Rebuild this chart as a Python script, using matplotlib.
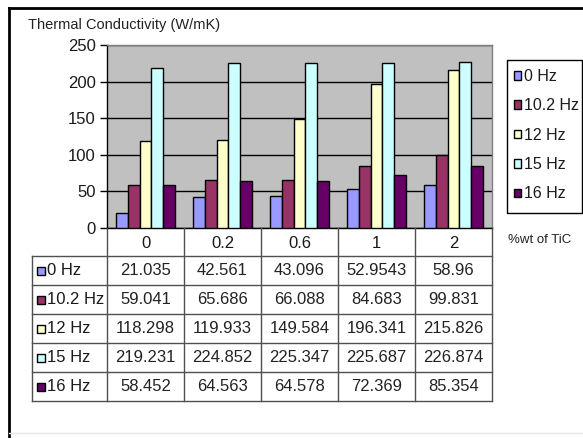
import matplotlib
matplotlib.use('Agg')
import numpy as np
import matplotlib.pyplot as plt
from matplotlib.patches import Rectangle
from matplotlib.lines import Line2D

plt.rcParams['font.family'] = ['Liberation Sans', 'DejaVu Sans']

# %wt of TiC and thermal conductivity (W/mK) per vibration frequency
categories = ['0', '0.2', '0.6', '1', '2']
series_names = ['0 Hz', '10.2 Hz', '12 Hz', '15 Hz', '16 Hz']
hz_0 = [21.035, 42.561, 43.096, 52.9543, 58.96]
hz_10_2 = [59.041, 65.686, 66.088, 84.683, 99.831]
hz_12 = [118.298, 119.933, 149.584, 196.341, 215.826]
hz_15 = [219.231, 224.852, 225.347, 225.687, 226.874]
hz_16 = [58.452, 64.563, 64.578, 72.369, 85.354]
series_values = [hz_0, hz_10_2, hz_12, hz_15, hz_16]
series_labels = [['21.035', '42.561', '43.096', '52.9543', '58.96'],
                 ['59.041', '65.686', '66.088', '84.683', '99.831'],
                 ['118.298', '119.933', '149.584', '196.341', '215.826'],
                 ['219.231', '224.852', '225.347', '225.687', '226.874'],
                 ['58.452', '64.563', '64.578', '72.369', '85.354']]
colors = ['#9999FF', '#993366', '#FFFFCC', '#CCFFFF', '#660066']

W, H = 583, 438
fig = plt.figure(figsize=(W / 100, H / 100), dpi=100)


def fx(x):
    return x / W


def fy(y):
    return 1 - y / H


# plot area in pixel terms
left, right, top, bottom = 107, 492, 45, 228
ax = fig.add_axes([fx(left), fy(bottom), (right - left) / W, (bottom - top) / H])
ax.set_facecolor('#C0C0C0')

n = len(series_names)
bw = 1 / 6.5
x = np.arange(len(categories))
bars = []
for j in range(n):
    b = ax.bar(x + (j - (n - 1) / 2) * bw, series_values[j], bw,
               color=colors[j], edgecolor='black', linewidth=1, zorder=3)
    bars.append(b)

ax.set_xlim(-0.5, len(categories) - 0.5)
ax.set_ylim(0, 250)
ax.set_yticks(np.arange(0, 251, 50))
ax.yaxis.grid(True, color='black', linewidth=1, zorder=1)
ax.set_xticks([])
ax.tick_params(axis='y', direction='out', length=5, width=1, labelsize=12, pad=3,
               labelcolor='#1a1a1a')
for s in ['left', 'bottom']:
    ax.spines[s].set_color('black')
    ax.spines[s].set_linewidth(1)
for s in ['top', 'right']:
    ax.spines[s].set_color('#808080')
    ax.spines[s].set_linewidth(1)

# outer chart frame
fig.add_artist(Line2D([fx(9), fx(583)], [fy(8), fy(8)], color='black', lw=2))
fig.add_artist(Line2D([fx(9), fx(9)], [fy(8), fy(438)], color='black', lw=2))
fig.add_artist(Line2D([fx(9), fx(583)], [fy(433), fy(433)], color='#E4E4E4', lw=1))

fig.text(fx(28), fy(25), 'Thermal Conductivity (W/mK)', fontsize=10.5,
         ha='left', va='center', color='#222222')
fig.text(fx(508), fy(240), '%wt of TiC', fontsize=9.5, ha='left', va='center',
         color='#222222')

# data table under the axis
col_w = (right - left) / len(categories)
tab_left = 32
head_h = 28
row_h = 29
lc = '#505050'
tab_bottom = bottom + head_h + n * row_h
# vertical lines
for i in range(len(categories) + 1):
    xx = left + i * col_w
    fig.add_artist(Line2D([fx(xx), fx(xx)], [fy(bottom), fy(tab_bottom)], color=lc, lw=1))
fig.add_artist(Line2D([fx(tab_left), fx(tab_left)], [fy(bottom + head_h), fy(tab_bottom)],
                      color=lc, lw=1))
# horizontal lines
for k in range(n + 1):
    yy = bottom + head_h + k * row_h
    fig.add_artist(Line2D([fx(tab_left), fx(right)], [fy(yy), fy(yy)], color=lc, lw=1))

for i, c in enumerate(categories):
    fig.text(fx(left + (i + 0.5) * col_w), fy(bottom + head_h / 2 + 1), c,
             fontsize=12, ha='center', va='center', color='#1a1a1a')

for k in range(n):
    yc = bottom + head_h + (k + 0.5) * row_h
    fig.add_artist(Rectangle((fx(37), fy(yc + 4)), 8 / W, 8 / H, facecolor=colors[k],
                             edgecolor='black', lw=1))
    fig.text(fx(47), fy(yc), series_names[k], fontsize=12, ha='left', va='center',
             color='#1a1a1a')
    for i in range(len(categories)):
        fig.text(fx(left + (i + 0.5) * col_w), fy(yc), series_labels[k][i],
                 fontsize=12, ha='center', va='center', color='#222222')

# legend on the right, boxed separately so the frame stays inside the figure
fig.add_artist(Rectangle((fx(507), fy(213)), 75 / W, 153 / H, facecolor='white',
                         edgecolor='black', lw=1))
leg = fig.legend([b[0] for b in bars], series_names, loc='upper left',
                 bbox_to_anchor=(fx(514), fy(69)), fontsize=11.5, frameon=False,
                 handlelength=0.45, handleheight=0.45, handletextpad=0.15,
                 labelspacing=0.9, borderpad=0, borderaxespad=0)
for t in leg.get_texts():
    t.set_color('#1a1a1a')

fig.savefig('out.png', dpi=100)
